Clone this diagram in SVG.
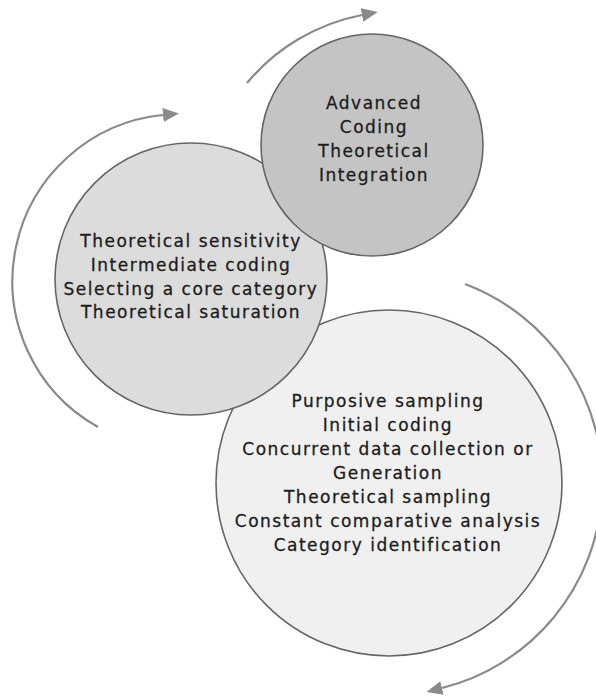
<svg xmlns="http://www.w3.org/2000/svg" width="596" height="700" viewBox="0 0 596 700">
  <defs>
    <style>
      .stage { stroke: #666; stroke-width: 1.6; }
      .label { font-family: "DejaVu Sans", Verdana, sans-serif; font-size: 17px; letter-spacing: 1.5px; fill: #1c1c1c; stroke: #1c1c1c; stroke-width: 0.3; text-anchor: middle; }
      .cycle { fill: none; stroke: #8a8a8a; stroke-width: 2.2; }
    </style>
    <marker id="head" markerUnits="userSpaceOnUse" viewBox="0 0 16 14" markerWidth="16" markerHeight="14" refX="0" refY="7" orient="auto">
      <path d="M0,0 L16,7 L0,14 Z" fill="#8a8a8a"/>
    </marker>
  </defs>

  <rect width="596" height="700" fill="#fff"/>

  <!-- cycle arrows -->
  <g id="connectors">
    <path class="cycle" d="M247,83 A199,199 0 0 1 362,15" marker-end="url(#head)"/>
    <path class="cycle" d="M98,427 A167,167 0 0 1 163,115" marker-end="url(#head)"/>
    <path class="cycle" d="M465,284 A212,212 0 0 1 442,688" marker-end="url(#head)"/>
  </g>

  <!-- stage 1: initial -->
  <g id="initial">
    <circle class="stage" cx="389" cy="483" r="173" fill="#f0f0f0"/>
    <text class="label" x="388" y="407">Purposive sampling</text>
    <text class="label" x="388" y="431">Initial coding</text>
    <text class="label" x="388" y="455">Concurrent data collection or</text>
    <text class="label" x="388" y="479">Generation</text>
    <text class="label" x="388" y="503">Theoretical sampling</text>
    <text class="label" x="388" y="527">Constant comparative analysis</text>
    <text class="label" x="388" y="551">Category identification</text>
  </g>

  <!-- stage 2: intermediate -->
  <g id="intermediate">
    <circle class="stage" cx="191" cy="279" r="136" fill="#dcdcdc"/>
    <text class="label" x="191" y="247">Theoretical sensitivity</text>
    <text class="label" x="191" y="271">Intermediate coding</text>
    <text class="label" x="191" y="295">Selecting a core category</text>
    <text class="label" x="191" y="318">Theoretical saturation</text>
  </g>

  <!-- stage 3: advanced -->
  <g id="advanced">
    <circle class="stage" cx="372" cy="145" r="111" fill="#c4c4c4"/>
    <text class="label" x="374" y="109">Advanced</text>
    <text class="label" x="374" y="133">Coding</text>
    <text class="label" x="374" y="157">Theoretical</text>
    <text class="label" x="374" y="181">Integration</text>
  </g>
</svg>
